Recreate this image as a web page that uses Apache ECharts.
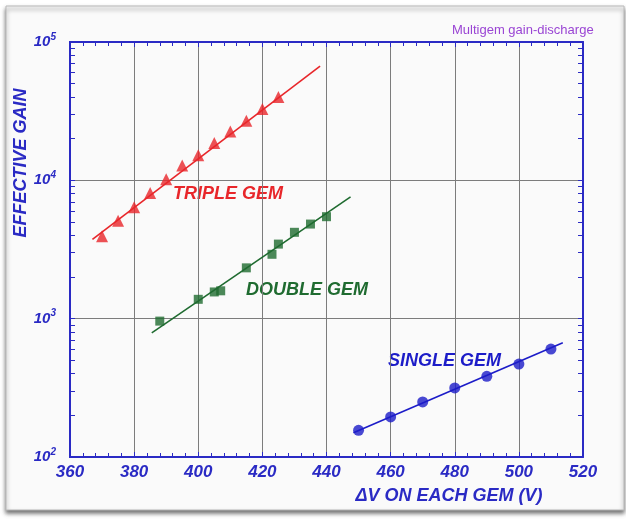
<!DOCTYPE html>
<html>
<head>
<meta charset="utf-8">
<script src="https://cdn.jsdelivr.net/npm/echarts@6/dist/echarts.min.js"></script>
<style>
html, body { margin: 0; padding: 0; background: #fff; }
#main { width: 626px; height: 519px; }
</style>
</head>
<body>
<div id="main"></div>
<script>
// 数据
var tripleV = [370, 375, 380, 385, 390, 395, 400, 405, 410, 415, 420, 425];
var tripleGain = [3950, 5100, 6400, 8100, 10200, 12800, 15200, 18600, 22500, 27000, 32800, 40000];
var tripleFitV = [367, 438];
var tripleFitGain = [3740, 67000];

var doubleV = [388, 400, 405, 407, 415, 423, 425, 430, 435, 440];
var doubleGain = [960, 1380, 1560, 1590, 2330, 2920, 3460, 4210, 4830, 5460];
var doubleFitV = [385.5, 447.5];
var doubleFitGain = [790, 7600];

var singleV = [450, 460, 470, 480, 490, 500, 510];
var singleGain = [156, 195, 250, 316, 383, 470, 603];
var singleFitV = [448.4, 513.7];
var singleFitGain = [150, 670];

var xTicks = [360, 380, 400, 420, 440, 460, 480, 500, 520];
var yDecades = [100, 1000, 10000, 100000];

function zip(a, b) {
    let out = [];
    for (let i = 0; i < a.length; i++) {
        out.push([a[i], b[i]]);
    }
    return out;
}

// log轴的小刻度 2..9
let yTickValues = [];
for (let i = 0; i < yDecades.length; i++) {
    for (let k = 1; k <= 9; k++) {
        if (k > 1 && i == yDecades.length - 1) break;
        yTickValues.push(yDecades[i] * k);
    }
}

var blue = '#2a2ac4';
var red = '#e8262a';
var green = '#1f6b30';
var dotBlue = '#1c1cc8';
var font = 'Liberation Sans, Arial';

var myChart = echarts.init(document.getElementById('main'));

var tickFont = {
    color: blue,
    fontFamily: font,
    fontWeight: 'bold',
    fontStyle: 'italic',
    fontSize: 16
};

var xBase = {
    type: 'value',
    min: 360,
    max: 520,
    interval: 20,
    axisLine: { lineStyle: { color: blue, width: 2 } },
    axisTick: { inside: true, length: 5, lineStyle: { color: blue } },
    minorTick: { show: true, splitNumber: 5, length: 4, lineStyle: { color: blue } }
};

var yBase = {
    type: 'log',
    logBase: 10,
    min: 100,
    max: 100000,
    axisLine: { lineStyle: { color: blue, width: 2 } },
    axisTick: { inside: true, length: 5, customValues: yTickValues, lineStyle: { color: blue } },
    axisLabel: { show: false },
    splitLine: { show: false }
};

option = {
    backgroundColor: '#ffffff',
    animation: false,
    grid: {
        left: 70,
        right: 43,
        top: 42,
        bottom: 62
    },
    xAxis: [
        Object.assign({}, xBase, {
            position: 'bottom',
            axisLabel: Object.assign({ margin: 7, customValues: xTicks }, tickFont, { fontSize: 17 }),
            splitLine: { show: true, lineStyle: { color: '#7c7c7c', width: 1 } }
        }),
        Object.assign({}, xBase, {
            position: 'top',
            axisLabel: { show: false },
            splitLine: { show: false }
        })
    ],
    yAxis: [
        {
            type: 'log',
            logBase: 10,
            min: 100,
            max: 100000,
            position: 'left',
            axisLine: { lineStyle: { color: blue, width: 2 } },
            axisTick: { show: false },
            axisLabel: {
                margin: 14,
                formatter: function (v) {
                    let e = Math.round(Math.log10(v));
                    return '{b|10}{e|' + e + '}';
                },
                rich: {
                    b: Object.assign({}, tickFont, { fontSize: 15 }),
                    e: Object.assign({}, tickFont, { fontSize: 10, padding: [0, 0, 10, 0] })
                }
            },
            splitLine: { show: true, lineStyle: { color: '#7c7c7c', width: 1 } }
        },
        Object.assign({}, yBase, { position: 'left' }),
        Object.assign({}, yBase, { position: 'right' })
    ],
    graphic: [
        {
            type: 'rect',
            z: -100,
            shape: { x: 6, y: 6, width: 618, height: 504 },
            style: {
                fill: '#fafafa',
                stroke: '#b8b8b8',
                lineWidth: 1,
                shadowBlur: 4,
                shadowOffsetY: 3,
                shadowColor: 'rgba(0,0,0,0.55)'
            }
        },
        {
            type: 'text',
            x: 452,
            y: 24,
            style: {
                text: 'Multigem gain-discharge',
                fill: '#9a45d4',
                font: '13px ' + font
            }
        },
        {
            type: 'text',
            x: 12,
            y: 163,
            rotation: Math.PI / 2,
            style: {
                text: 'EFFECTIVE GAIN',
                fill: blue,
                font: 'italic bold 18px ' + font,
                align: 'center',
                verticalAlign: 'top'
            }
        },
        {
            type: 'text',
            x: 449,
            y: 487,
            style: {
                text: 'ΔV ON EACH GEM (V)',
                fill: blue,
                font: 'italic bold 18px ' + font,
                align: 'center',
                verticalAlign: 'top'
            }
        },
        {
            type: 'text',
            x: 173,
            y: 185,
            style: {
                text: 'TRIPLE GEM',
                fill: red,
                font: 'italic bold 18px ' + font
            }
        },
        {
            type: 'text',
            x: 246,
            y: 281,
            style: {
                text: 'DOUBLE GEM',
                fill: green,
                font: 'italic bold 18px ' + font
            }
        },
        {
            type: 'text',
            x: 388,
            y: 352,
            style: {
                text: 'SINGLE GEM',
                fill: dotBlue,
                font: 'italic bold 18px ' + font
            }
        }
    ],
    series: [
        {
            name: 'triple fit',
            type: 'line',
            symbol: 'none',
            lineStyle: { color: red, width: 1.6 },
            data: zip(tripleFitV, tripleFitGain)
        },
        {
            name: 'triple',
            type: 'scatter',
            symbol: 'triangle',
            symbolSize: 12,
            itemStyle: { color: red },
            data: zip(tripleV, tripleGain)
        },
        {
            name: 'double fit',
            type: 'line',
            symbol: 'none',
            lineStyle: { color: green, width: 1.6 },
            data: zip(doubleFitV, doubleFitGain)
        },
        {
            name: 'double',
            type: 'scatter',
            symbol: 'rect',
            symbolSize: 9,
            itemStyle: { color: green },
            data: zip(doubleV, doubleGain)
        },
        {
            name: 'single fit',
            type: 'line',
            symbol: 'none',
            lineStyle: { color: dotBlue, width: 1.6 },
            data: zip(singleFitV, singleFitGain)
        },
        {
            name: 'single',
            type: 'scatter',
            symbol: 'circle',
            symbolSize: 11,
            itemStyle: { color: dotBlue },
            data: zip(singleV, singleGain)
        }
    ]
};
// 使用刚指定的配置项和数据显示图表。
myChart.setOption(option);
</script>
</body>
</html>
